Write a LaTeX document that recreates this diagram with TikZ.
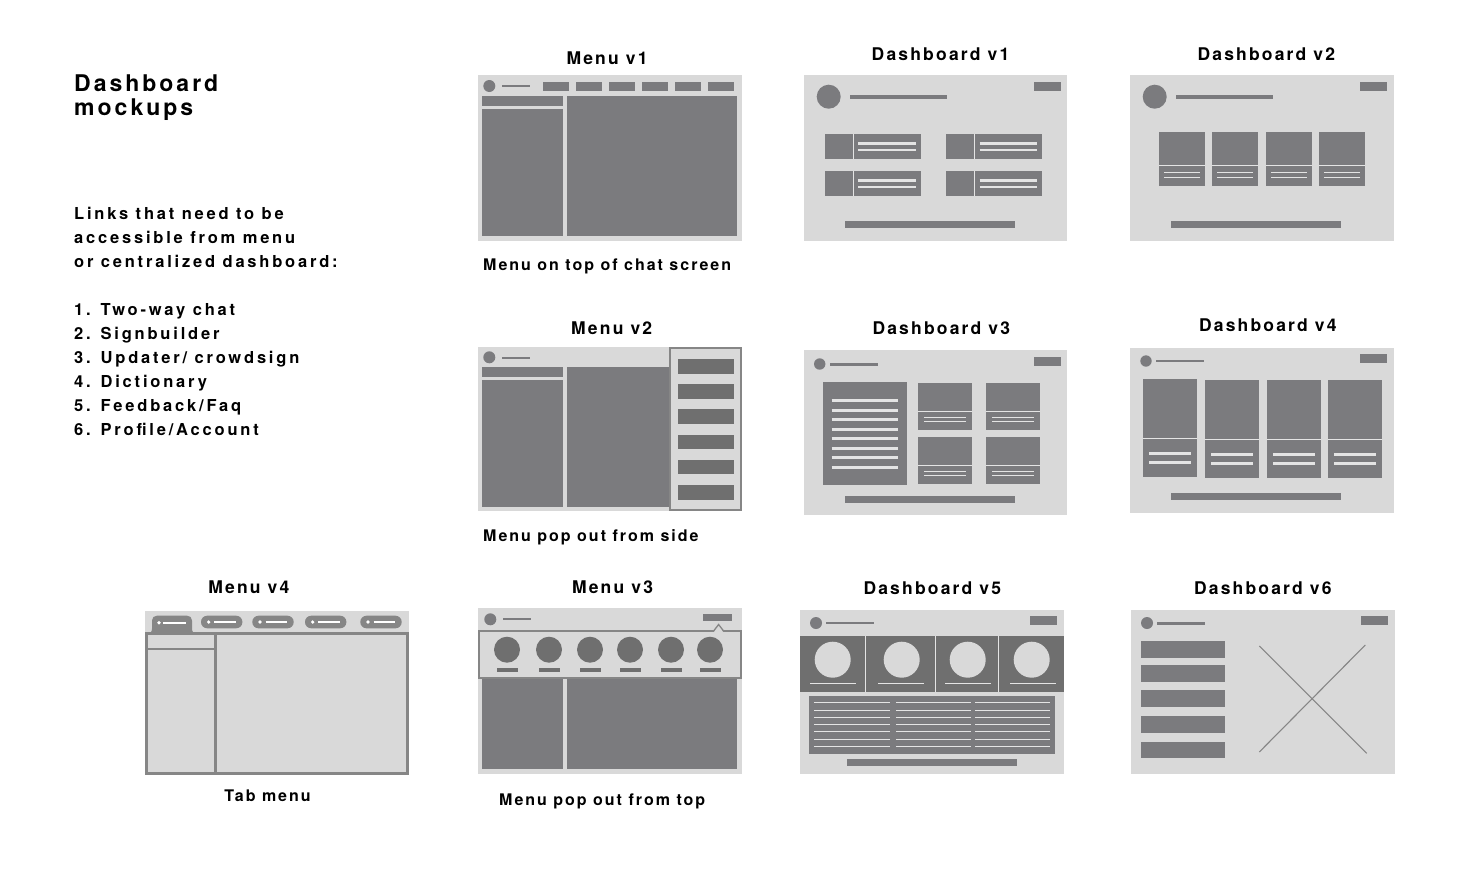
\documentclass[tikz,border=0pt]{standalone}
\usepackage{fontspec}
\newfontfamily\fTtl{TeX Gyre Heros}[LetterSpace=12.5]
\newfontfamily\fBody{TeX Gyre Heros}[LetterSpace=17]
\newfontfamily\fHead{TeX Gyre Heros}[LetterSpace=13]
\definecolor{lg}{HTML}{D9D9D9}
\definecolor{dg}{HTML}{7B7B7E}
\definecolor{dgb}{HTML}{6F6F6F}
\definecolor{brd}{HTML}{868686}
\definecolor{wl}{HTML}{E4E4E4}
\begin{document}
\begin{tikzpicture}[x=1pt,y=-1pt,
  ttl/.style={inner sep=0pt,anchor=base,font=\fTtl\bfseries\fontsize{17.5}{20}\selectfont},
  captxt/.style={inner sep=0pt,anchor=base,font=\fTtl\bfseries\fontsize{16}{19}\selectfont},
  body/.style={inner sep=0pt,anchor=base west,font=\fBody\bfseries\fontsize{16.5}{19}\selectfont},
  head/.style={inner sep=0pt,anchor=base west,font=\fHead\bfseries\fontsize{23}{26}\selectfont},
  wline/.style={draw=wl,line width=2.4pt},
  dline/.style={draw=dg,line width=2pt}
]
\useasboundingbox (0,0) rectangle (1468,884);
\fill[white] (0,0) rectangle (1468,884);

% ---------- left text ----------
\node[head] (h1) at (74,91.5) {Dashboard};
\node[head] (h2) at (74,115.5) {mockups};
\node[body] (b1) at (74,219.3) {Links that need to be};
\node[body] (b2) at (74,243.3) {accessible from menu};
\node[body] (b3) at (74,267.3) {or centralized dashboard:};
\node[body] (l1) at (74,315.5) {1. Two-way chat};
\node[body] (l2) at (74,339.5) {2. Signbuilder};
\node[body] (l3) at (74,363.5) {3. Updater/ crowdsign};
\node[body] (l4) at (74,387.5) {4. Dictionary};
\node[body] (l5) at (74,411.5) {5. Feedback/Faq};
\node[body] (l6) at (74,435.5) {6. Profile/Account};

% ---------- titles ----------
\node[ttl] (tm1) at (607,64) {Menu v1};
\node[ttl] (td1) at (940.5,60) {Dashboard v1};
\node[ttl] (td2) at (1266.3,60) {Dashboard v2};
\node[ttl] (tm2) at (611.7,334.3) {Menu v2};
\node[ttl] (td3) at (941.3,334) {Dashboard v3};
\node[ttl] (td4) at (1267.8,331.7) {Dashboard v4};
\node[ttl] (tm4) at (248.8,593.3) {Menu v4};
\node[ttl] (tm3) at (612.5,593.3) {Menu v3};
\node[ttl] (td5) at (932.3,594) {Dashboard v5};
\node[ttl] (td6) at (1262.8,594) {Dashboard v6};
\node[captxt,anchor=base west] (c1) at (483,270) {Menu on top of chat screen};
\node[captxt,anchor=base west] (c2) at (483,541) {Menu pop out from side};
\node[captxt] (c4) at (267.5,801.7) {Tab menu};
\node[captxt] (c3) at (602.2,805) {Menu pop out from top};

% ---------- Menu v1 ----------
\fill[lg] (478,75) rectangle (742,241);
\fill[dg] (489.3,86) circle (6);
\draw[dline] (502,86.3) -- (530,86.3);
\foreach \i in {0,...,5} {\fill[dg] (542.7+33*\i,81.7) rectangle (569.4+33*\i,91);}
\fill[dg] (482,96) rectangle (562.7,106);
\fill[dg] (482,108.7) rectangle (562.7,236);
\fill[dg] (567,96) rectangle (737,236);

% ---------- Dashboard v1 ----------
\fill[lg] (804,75) rectangle (1067,241);
\fill[dg] (828.7,96.7) circle (12);
\fill[dg] (850,94.5) rectangle (947,98.5);
\fill[dg] (1034,82) rectangle (1061,91);
\foreach \cx/\dx in {825/853,946/974.3} {
  \foreach \cy in {134,171} {
    \fill[dg] (\cx,\cy) rectangle (\cx+95.7,\cy+24.7);
    \draw[wl,line width=1pt] (\dx,\cy) -- (\dx,\cy+24.7);
    \draw[wline] (\dx+5.3,\cy+9.3) -- (\dx+62.7,\cy+9.3);
    \draw[wline] (\dx+5.3,\cy+16) -- (\dx+62.7,\cy+16);
  }
}
\fill[dg] (845,221) rectangle (1015,227.7);

% ---------- Dashboard v2 ----------
\fill[lg] (1130,75) rectangle (1394,241);
\fill[dg] (1154.7,96.7) circle (12);
\fill[dg] (1176,94.5) rectangle (1272.7,98.5);
\fill[dg] (1360,82) rectangle (1387,91);
\foreach \cx in {1159,1212,1266,1319} {
  \fill[dg] (\cx,131.7) rectangle (\cx+45.7,185.7);
  \draw[wl,line width=1pt] (\cx,165) -- (\cx+45.7,165);
  \draw[wl,line width=1.5pt] (\cx+5,172.7) -- (\cx+41,172.7);
  \draw[wl,line width=1.5pt] (\cx+5,177.7) -- (\cx+41,177.7);
}
\fill[dg] (1171,221) rectangle (1341,227.7);

% ---------- Menu v2 ----------
\fill[lg] (478,347) rectangle (742,511);
\fill[dg] (489.3,357.3) circle (6);
\draw[dline] (502,357.5) -- (530,357.5);
\fill[dg] (482,366.7) rectangle (562.7,377);
\fill[dg] (482,380) rectangle (562.7,507);
\fill[dg] (567,366.7) rectangle (669.5,507);
\draw[brd,line width=2pt,fill=lg] (670.3,347.7) rectangle (740.7,509.7);
\foreach \by in {359,384,409,434.7,459.7,485} {\fill[dgb] (678,\by) rectangle (734,\by+14.7);}

% ---------- Dashboard v3 ----------
\fill[lg] (804,350) rectangle (1067,515);
\fill[dg] (819.7,364) circle (5.7);
\fill[dg] (830,363) rectangle (878,365.7);
\fill[dg] (1034,357) rectangle (1061,366);
\fill[dg] (823,382) rectangle (906.7,484.7);
\foreach \ly in {400.3,410.3,419.3,429.3,438.3,448.3,457.3,467.3} {\draw[wline] (831.7,\ly) -- (897.7,\ly);}
\foreach \cx in {918,986} {
  \foreach \cy/\dy in {383/411.3,437/465.3} {
    \fill[dg] (\cx,\cy) rectangle (\cx+53.7,\cy+46.7);
    \draw[wl,line width=1pt] (\cx,\dy) -- (\cx+53.7,\dy);
    \draw[wl,line width=1pt] (\cx+6,\dy+5.7) -- (\cx+47.7,\dy+5.7);
    \draw[wl,line width=1pt] (\cx+6,\dy+10.5) -- (\cx+47.7,\dy+10.5);
  }
}
\fill[dg] (845,496) rectangle (1015,502.7);

% ---------- Dashboard v4 ----------
\fill[lg] (1130,347.7) rectangle (1394,512.7);
\fill[dg] (1146,361) circle (5.7);
\fill[dg] (1156,359.7) rectangle (1204,362.3);
\fill[dg] (1360,354) rectangle (1387,362.7);
\foreach \cx/\ty in {1143/379,1205/380,1267/380,1328/380} {
  \fill[dg] (\cx,\ty) rectangle (\cx+53.7,\ty+97.7);
  \draw[wl,line width=1.3pt] (\cx,\ty+59.5) -- (\cx+53.7,\ty+59.5);
  \draw[wline] (\cx+6,\ty+74.5) -- (\cx+47.7,\ty+74.5);
  \draw[wline] (\cx+6,\ty+83.5) -- (\cx+47.7,\ty+83.5);
}
\fill[dg] (1171,493) rectangle (1341,499.7);

% ---------- Menu v4 ----------
\fill[lg] (145,610.7) rectangle (409,775);
\draw[brd,line width=3pt] (146.5,633.8) rectangle (407.5,773.5);
\draw[brd,line width=2.5pt] (215.7,633) -- (215.7,772);
\draw[brd,line width=1.5pt] (147,649) -- (215,649);
\fill[brd] (146,634) .. controls (150.5,634) and (152,632) .. (152,628.5) -- (152,620.5)
  .. controls (152,617.5) and (154,615.7) .. (157,615.7) -- (187,615.7)
  .. controls (190,615.7) and (192,617.5) .. (192,620.5) -- (192,628.5)
  .. controls (192,632) and (193.5,634) .. (198,634) -- cycle;
\fill[white] (159,622.7) circle (1.8);
\draw[white,line width=1.7pt] (163.3,622.7) -- (186,622.7);
\foreach \px in {201,252.3,305,360.3} {
  \fill[brd,rounded corners=6.2pt] (\px,615.7) rectangle (\px+41.4,628.3);
  \fill[white] (\px+7.7,622) circle (1.8);
  \draw[white,line width=1.7pt] (\px+13.3,622) -- (\px+35,622);
}

% ---------- Menu v3 ----------
\fill[lg] (478,608.3) rectangle (742,774);
\fill[dg] (490.3,619.3) circle (6);
\draw[dline] (503.3,619.2) -- (531,619.2);
\fill[dg] (703,614) rectangle (731.7,620.7);
\fill[dg] (482,679.3) rectangle (562.7,768.7);
\fill[dg] (567,679.3) rectangle (737,768.7);
\draw[brd,line width=2pt,fill=lg] (479.3,631) rectangle (740.7,677.7);
\fill[lg] (714,632) -- (718.6,624.5) -- (723.2,632) -- cycle;
\draw[brd,line width=1.3pt] (713.6,631) -- (718.6,624.5) -- (723.6,631);
\foreach \cx in {507,549,590,630,671,710} {
  \fill[dgb] (\cx,649.7) circle (13);
  \fill[dgb] (\cx-10.5,668.3) rectangle (\cx+10.5,671.7);
}

% ---------- Dashboard v5 ----------
\fill[lg] (800,609.7) rectangle (1064,774.3);
\fill[dg] (816,623) circle (6);
\fill[dg] (826,622) rectangle (874,624.3);
\fill[dg] (1030,616) rectangle (1057,624.7);
\fill[dgb] (800,636) rectangle (1064,691.7);
\foreach \vx in {865.7,935.3,998.3} {\draw[wl,line width=1pt] (\vx,636) -- (\vx,691.7);}
\foreach \cx in {832.7,901.7,967.7,1031.7} {\fill[lg] (\cx,659.7) circle (18);}
\foreach \ax/\bx in {810/855.7,878/924,945/991,1010/1056} {\draw[wl,line width=1.3pt] (\ax,683.7) -- (\bx,683.7);}
\fill[dg] (809,695.7) rectangle (1055,754);
\foreach \ly in {702,710,717.3,724.3,731,739,746.3} {
  \foreach \ax/\bx in {814.3/889.7,896/971,975/1049.7} {\draw[wl,line width=0.9pt] (\ax,\ly) -- (\bx,\ly);}
}
\fill[dg] (847,758.7) rectangle (1017,765.7);

% ---------- Dashboard v6 ----------
\fill[lg] (1131,609.7) rectangle (1395,774.3);
\fill[dg] (1147,623) circle (6);
\fill[dg] (1157,622) rectangle (1205,624.7);
\fill[dg] (1361,616) rectangle (1388,624.7);
\foreach \by in {641,665,690,716,741.7} {\fill[dg] (1141,\by) rectangle (1225,\by+16.7);}
\draw[brd,line width=1.1pt] (1259.3,646) -- (1366.7,753.3);
\draw[brd,line width=1.1pt] (1365.3,645) -- (1259.3,752);
\end{tikzpicture}
\end{document}
